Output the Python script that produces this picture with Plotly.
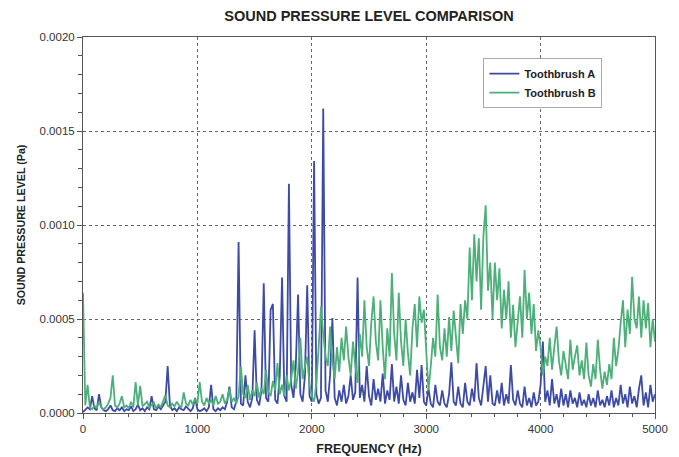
import plotly.graph_objects as go

# Frequency grid (Hz), 20 Hz steps
freq_hz = list(range(0, 5001, 20))

# Sound pressure level values in micro-pascal (1e-6 Pa)
toothbrush_a_upa = [
    5, 15, 30, 20, 90, 25, 15, 100, 30, 15,
    10, 20, 40, 15, 10, 25, 15, 30, 10, 20,
    15, 35, 10, 20, 45, 15, 25, 10, 30, 20,
    90, 20, 15, 35, 20, 40, 60, 250, 40, 15,
    25, 10, 30, 20, 15, 35, 20, 10, 25, 80,
    20, 10, 15, 25, 10, 30, 150, 20, 10, 25,
    15, 30, 20, 60, 140, 30, 20, 60, 910, 50,
    40, 200, 60, 30, 80, 440, 70, 40, 120, 690,
    80, 60, 550, 580, 70, 50, 200, 720, 90, 60,
    1220, 150, 80, 250, 630, 100, 60, 200, 680, 90,
    60, 1340, 100, 50, 80, 1620, 120, 60, 200, 505,
    80, 40, 120, 60, 150, 50, 90, 200, 70, 110,
    720, 80, 150, 60, 250, 90, 40, 180, 70, 130,
    60, 210, 50, 120, 70, 260, 60, 140, 50, 200,
    70, 40, 160, 60, 110, 50, 230, 80, 255, 60,
    40, 130, 50, 30, 150, 60, 40, 120, 50, 30,
    100, 270, 60, 40, 140, 50, 30, 160, 60, 40,
    130, 60, 265, 80, 40, 150, 250, 60, 200, 50,
    40, 120, 50, 160, 40, 100, 50, 255, 70, 40,
    120, 50, 30, 140, 40, 80, 30, 110, 40, 60,
    150, 380, 60, 120, 40, 180, 50, 100, 30, 130,
    40, 100, 30, 120, 50, 80, 30, 110, 40, 70,
    30, 100, 40, 80, 30, 120, 40, 70, 30, 90,
    40, 120, 30, 80, 40, 150, 50, 100, 30, 140,
    50, 90, 30, 130, 200, 40, 110, 30, 150, 60,
    100,
]

toothbrush_b_upa = [
    640, 40, 150, 30, 20, 40, 25, 60, 30, 20,
    30, 50, 80, 200, 40, 30, 50, 90, 30, 40,
    25, 60, 30, 165, 40, 145, 35, 50, 60, 30,
    40, 55, 25, 45, 30, 60, 95, 40, 30, 50,
    35, 60, 40, 30, 110, 50, 40, 70, 45, 75,
    50, 165, 60, 40, 80, 50, 70, 40, 90, 50,
    60, 100, 50, 70, 130, 60, 80, 50, 90, 245,
    100, 80, 150, 70, 120, 90, 160, 80, 130, 100,
    230, 110, 90, 170, 120, 265, 100, 150, 90, 200,
    120, 180, 280, 130, 220, 400, 180, 250, 300, 150,
    90, 60, 160, 350, 565, 420, 300, 250, 460, 280,
    180, 350, 220, 400, 280, 460, 300, 200, 380, 250,
    160, 420, 300, 600, 350, 250, 480, 620, 380, 280,
    600, 350, 180, 450, 300, 745, 420, 280, 640, 380,
    250, 500, 320, 200, 450, 580, 350, 620, 480, 550,
    300, 120, 250, 400, 300, 630, 350, 280, 450, 300,
    510, 330, 545, 400, 265, 580, 420, 600, 500, 880,
    600, 950, 700, 930, 550, 940, 1105, 650, 800, 500,
    800, 600, 770, 450, 655, 500, 700, 400, 575, 350,
    500, 620, 400, 760, 500, 640, 420, 580, 330, 440,
    350, 200, 300, 250, 400, 230, 350, 460, 280, 200,
    330, 250, 180, 390, 230, 300, 360, 200, 280, 180,
    375, 200, 140, 260, 180, 390, 230, 130, 220, 150,
    260, 180, 400, 250, 335, 480, 600, 350, 550, 420,
    725, 500, 450, 620, 400, 600, 450, 585, 350, 500,
    380,
]

series_names = ["Toothbrush A", "Toothbrush B"]
series_colors = ["#3D4BA6", "#4DAF7A"]

x_tick_vals = [0, 1000, 2000, 3000, 4000, 5000]
y_tick_vals = [0.0, 0.0005, 0.0010, 0.0015, 0.0020]

UPA_TO_PA = 1e-6
ya = [v * UPA_TO_PA for v in toothbrush_a_upa]
yb = [v * UPA_TO_PA for v in toothbrush_b_upa]

fig = go.Figure()
fig.add_trace(go.Scatter(x=freq_hz, y=ya, mode="lines", name=series_names[0],
                         line=dict(color=series_colors[0], width=1.8)))
fig.add_trace(go.Scatter(x=freq_hz, y=yb, mode="lines", name=series_names[1],
                         line=dict(color=series_colors[1], width=1.8)))

font_family = "Liberation Sans, Arial, sans-serif"
axis_color = "#555555"

fig.update_layout(
    width=679, height=457,
    margin=dict(l=75, r=32, t=29, b=52, autoexpand=False),
    paper_bgcolor="white", plot_bgcolor="white",
    font=dict(family=font_family, size=11, color="#333333"),
    title=dict(text="<b>SOUND PRESSURE LEVEL COMPARISON</b>", x=0.5, xanchor="center",
               xref="paper", y=1 - 8 / 457, yref="container", yanchor="middle",
               font=dict(size=14.5, color="#222222")),
    showlegend=True,
    legend=dict(x=0.70, y=0.944, xanchor="left", yanchor="top",
                bgcolor="white", bordercolor="#aaaaaa", borderwidth=1,
                font=dict(size=11, color="#222222", weight="bold"), tracegroupgap=0,
                itemwidth=30, itemclick=False),
)

fig.update_xaxes(
    range=[0, 5000], tickvals=x_tick_vals, ticktext=[str(v) for v in x_tick_vals],
    showline=True, linecolor=axis_color, linewidth=1, mirror=True,
    ticks="outside", ticklen=5, tickcolor=axis_color,
    showgrid=True, gridcolor="#666666", griddash="dot", gridwidth=1,
    zeroline=False, automargin=False,
    minor=dict(dtick=200, ticks="outside", ticklen=3, tickcolor=axis_color, showgrid=False),
    title=dict(text="<b>FREQUENCY (Hz)</b>", font=dict(size=12.5, color="#222222"), standoff=10),
    tickfont=dict(size=11.5, color="#333333"),
)
fig.update_yaxes(
    range=[0, 0.002], tickvals=y_tick_vals, tickformat=".4f",
    showline=True, linecolor=axis_color, linewidth=1, mirror=True,
    ticks="outside", ticklen=5, tickcolor=axis_color,
    showgrid=True, gridcolor="#666666", griddash="dot", gridwidth=1,
    zeroline=False, automargin=False,
    minor=dict(dtick=0.0001, ticks="outside", ticklen=4, tickcolor=axis_color, showgrid=False),
    title=dict(text="<b>SOUND PRESSURE LEVEL (Pa)</b>", font=dict(size=10.7, color="#222222"), standoff=11),
    tickfont=dict(size=11.5, color="#333333"),
)

fig.write_html("out.html")
